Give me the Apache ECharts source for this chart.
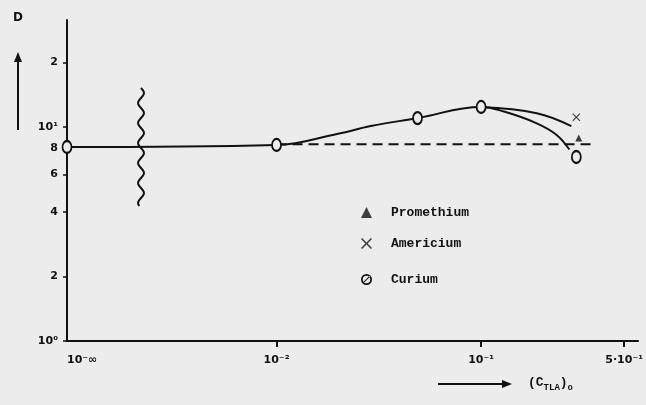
<!DOCTYPE html>
<html>
<head>
<meta charset="utf-8">
<script src="https://cdn.jsdelivr.net/npm/echarts@6/dist/echarts.min.js"></script>
<style>
  html, body { margin: 0; padding: 0; background: #ececec; }
  #chart { width: 646px; height: 405px; }
</style>
</head>
<body>
<div id="chart"></div>
<script>
// Distribution coefficient D versus (C_TLA)o, log–log scales
const xMin = 0.000946;          // left end of the axis, stands for 10^-inf
const xMax = 0.585;
const yMin = 1;
const yMax = 31.6;

const xTickValues = [0.000946, 0.01, 0.1, 0.5];
const xTickLabels = ['10⁻∞', '10⁻²', '10⁻¹', '5·10⁻¹'];
const yTickValues = [1, 2, 4, 6, 8, 10, 20];
const yTickLabels = ['10⁰', '2', '4', '6', '8', '10¹', '2'];

// Main solid curve (lower branch)
const mainX = [0.000946, 0.01, 0.02, 0.0289, 0.0489, 0.1, 0.1294, 0.187, 0.234, 0.27];
const mainY = [8.06, 8.24, 9.3, 10.1, 11.0, 12.4, 11.8, 10.4, 9.18, 7.85];

// Upper branch leaving the maximum
const upperX = [0.1, 0.187, 0.276];
const upperY = [12.4, 11.6, 10.1];

// Dashed reference line
const dashX = [0.01, 0.358];
const dashY = [8.3, 8.3];

// Measured points per element
const curiumX = [0.000946, 0.01, 0.0489, 0.1, 0.292];
const curiumY = [8.06, 8.24, 11.0, 12.4, 7.24];
const americiumX = [0.292];
const americiumY = [11.1];
const promethiumX = [0.3];
const promethiumY = [8.89];

const zip = (xs, ys) => xs.map((x, i) => [x, ys[i]]);

function tickText(values, labels) {
  return function (v) {
    let best = 0, dist = Infinity;
    values.forEach((t, i) => {
      const d = Math.abs(Math.log10(v) - Math.log10(t));
      if (d < dist) { dist = d; best = i; }
    });
    return dist < 0.02 ? labels[best] : '';
  };
}

const crossPath = 'path://M0,1 L1,0 L5,4 L9,0 L10,1 L6,5 L10,9 L9,10 L5,6 L1,10 L0,9 L4,5 Z';
// ring drawn as two half rings, plus a diagonal bar
const slashedCircle = 'path://M0,5 A5,5 0 0,1 10,5 L8.4,5 A3.4,3.4 0 0,0 1.6,5 Z ' +
  'M0,5 A5,5 0 0,0 10,5 L8.4,5 A3.4,3.4 0 0,1 1.6,5 Z ' +
  'M2.2,8.4 L8.4,2.2 L7.8,1.6 L1.6,7.8 Z';

const ink = '#111111';
const paper = '#ececec';
const labelFont = { color: ink, fontFamily: 'DejaVu Sans', fontSize: 11, fontWeight: 'bold' };
const legendText = { color: ink, fontFamily: 'Liberation Mono', fontSize: 13, fontWeight: 'bold', padding: [0, 0, 0, 14] };

function legendAt(name, icon, top) {
  return {
    data: [{ name: name, icon: icon }],
    left: 361, top: top, padding: 0,
    itemWidth: 11, itemHeight: 11,
    textStyle: legendText,
    itemStyle: { color: ink, borderWidth: 0 }
  };
}

// wavy break mark on the horizontal axis
const wave = [];
for (let y = 88; y <= 206; y += 2) {
  wave.push([141 + 3 * Math.sin((y - 88) / 20 * 2 * Math.PI), y]);
}

const chart = echarts.init(document.getElementById('chart'));
chart.setOption({
  backgroundColor: paper,
  animation: false,
  grid: { left: 67, right: 4, top: 20, bottom: 64 },
  xAxis: {
    type: 'log', logBase: 10, min: xMin, max: xMax,
    splitLine: { show: false },
    axisLine: { lineStyle: { color: ink, width: 2 } },
    axisTick: { customValues: xTickValues.slice(1), length: 6, lineStyle: { color: ink, width: 2 } },
    axisLabel: Object.assign({
      customValues: xTickValues, margin: 14, alignMinLabel: 'left',
      formatter: tickText(xTickValues, xTickLabels)
    }, labelFont)
  },
  yAxis: {
    type: 'log', logBase: 10, min: yMin, max: yMax,
    splitLine: { show: false },
    axisLine: { lineStyle: { color: ink, width: 2 } },
    axisTick: { customValues: yTickValues, length: 4, lineStyle: { color: ink, width: 1.5 } },
    axisLabel: Object.assign({
      customValues: yTickValues, margin: 9,
      formatter: tickText(yTickValues, yTickLabels)
    }, labelFont)
  },
  legend: [
    legendAt('Promethium', 'triangle', 206),
    legendAt('Americium', crossPath, 237),
    legendAt('Curium', slashedCircle, 273)
  ],
  series: [
    {
      type: 'line', smooth: 0.4, symbol: 'none', silent: true,
      data: zip(mainX, mainY),
      lineStyle: { color: ink, width: 2 }
    },
    {
      type: 'line', smooth: 0.4, symbol: 'none', silent: true,
      data: zip(upperX, upperY),
      lineStyle: { color: ink, width: 2 }
    },
    {
      type: 'line', symbol: 'none', silent: true,
      data: zip(dashX, dashY),
      lineStyle: { color: ink, width: 2, type: [10, 6] }
    },
    {
      name: 'Curium', type: 'scatter', z: 5,
      symbol: 'circle', symbolSize: [9, 12],
      data: zip(curiumX, curiumY),
      itemStyle: { color: paper, borderColor: ink, borderWidth: 2, opacity: 1 }
    },
    {
      name: 'Americium', type: 'scatter', z: 5,
      symbol: crossPath, symbolSize: 8,
      data: zip(americiumX, americiumY),
      itemStyle: { color: ink }
    },
    {
      name: 'Promethium', type: 'scatter', z: 5,
      symbol: 'triangle', symbolSize: 7,
      data: zip(promethiumX, promethiumY),
      itemStyle: { color: ink }
    }
  ],
  graphic: [
    // break in the concentration axis
    { type: 'polyline', shape: { points: wave }, style: { stroke: ink, lineWidth: 2, fill: null } },
    // D with upward arrow
    { type: 'text', left: 13, top: 12, style: { text: 'D', fill: ink, font: 'bold 12px DejaVu Sans' } },
    { type: 'line', shape: { x1: 18, y1: 130, x2: 18, y2: 60 }, style: { stroke: ink, lineWidth: 2 } },
    { type: 'polygon', shape: { points: [[18, 52], [14, 62], [22, 62]] }, style: { fill: ink } },
    // (C_TLA)o with rightward arrow
    { type: 'line', shape: { x1: 438, y1: 384, x2: 504, y2: 384 }, style: { stroke: ink, lineWidth: 2 } },
    { type: 'polygon', shape: { points: [[512, 384], [502, 380], [502, 388]] }, style: { fill: ink } },
    {
      type: 'text', left: 528, top: 376,
      style: {
        text: '{p|(C}{s|TLA}{p|)}{s|o}',
        rich: {
          p: { fontFamily: 'Liberation Mono', fontSize: 13, fontWeight: 'bold', fill: ink },
          s: { fontFamily: 'Liberation Mono', fontSize: 9, fontWeight: 'bold', fill: ink, padding: [10, 0, 0, 0] }
        }
      }
    }
  ]
});
</script>
</body>
</html>
